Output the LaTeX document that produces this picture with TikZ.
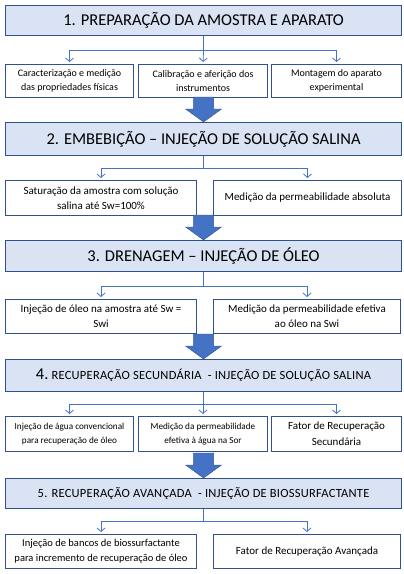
\documentclass[tikz,border=0pt]{standalone}
\usepackage{fontspec}
\setmainfont{Carlito}
\newfontfamily\widecaps[LetterSpace=2]{Carlito}
\usetikzlibrary{arrows.meta}
\usetikzlibrary{calc}

\definecolor{hdfill}{HTML}{DAE3F3}
\definecolor{hdline}{HTML}{2F528F}
\definecolor{lnk}{HTML}{4472C4}

\tikzset{
	head/.style={draw=hdline, fill=hdfill, line width=1.1pt, anchor=north west,
		minimum width=396pt, inner sep=0pt, font=\fontsize{16.5}{19}\selectfont},
	item/.style={draw=hdline, fill=white, line width=1pt, anchor=north west,
		inner sep=0pt, align=center},
	link/.style={draw=lnk, line width=0.8pt},
	tip/.style={link, -{Straight Barb[length=3.5pt,width=8pt]}, shorten >=2pt},
	bigarrow/.style={fill=lnk, draw=hdline, line width=0.4pt}
}
\newcommand{\blockarr}[1]{%
	\path[bigarrow] (#1) -- ++(18,-13) -- ++(-8,0) -- ++(0,-12) -- ++(-20,0)
	-- ++(0,12) -- ++(-8,0) -- cycle;}

\begin{document}
\begin{tikzpicture}[x=1pt,y=-1pt]
\useasboundingbox (0,0) rectangle (404,574);

% etapas
\node[head, minimum height=30pt] (h1) at (5,5) {1. PREPARAÇÃO DA AMOSTRA E APARATO};
\node[head, minimum height=33pt] (h2) at (5,122) {2. EMBEBIÇÃO – INJEÇÃO DE SOLUÇÃO SALINA};
\node[head, minimum height=31pt] (h3) at (5,240) {3. DRENAGEM – INJEÇÃO DE ÓLEO};
\node[head, minimum height=32pt] (h4) at (5,359)
	{4.{\widecaps\fontsize{12.5}{15}\selectfont\ RECUPERAÇÃO SECUNDÁRIA \ - INJEÇÃO DE SOLUÇÃO SALINA}};
\node[head, minimum height=30pt, font=\widecaps\fontsize{12.5}{15}\selectfont] (h5) at (5,478)
	{5. RECUPERAÇÃO AVANÇADA \ - INJEÇÃO DE BIOSSURFACTANTE};

% 1
\node[item, minimum width=128pt, minimum height=33pt, font=\fontsize{10}{14}\selectfont] (r1a) at (5,64)
	{Caracterização e medição\\das propriedades físicas};
\node[item, minimum width=129pt, minimum height=33pt, font=\fontsize{10}{14}\selectfont] (r1b) at (138,64)
	{Calibração e aferição dos\\instrumentos};
\node[item, minimum width=130pt, minimum height=33pt, font=\fontsize{10}{14}\selectfont] (r1c) at (271,64)
	{Montagem do aparato\\experimental};
% 2
\node[item, minimum width=191pt, minimum height=35pt, font=\fontsize{11}{15}\selectfont] (r2a) at (5,180)
	{Saturação da amostra com solução\\salina até Sw=100\%};
\node[item, minimum width=188pt, minimum height=35pt, font=\fontsize{11}{15}\selectfont] (r2b) at (213,180)
	{Medição da permeabilidade absoluta};
% 3
\node[item, minimum width=191pt, minimum height=34pt, font=\fontsize{11}{15}\selectfont] (r3a) at (5,299)
	{Injeção de óleo na amostra até Sw =\\Swi};
\node[item, minimum width=187pt, minimum height=34pt, font=\fontsize{11}{15}\selectfont] (r3b) at (213,299)
	{Medição da permeabilidade efetiva\\ao óleo na Swi};
% 4
\node[item, minimum width=128pt, minimum height=35pt, font=\fontsize{9.2}{14}\selectfont] (r4a) at (5,416)
	{Injeção de água convencional\\para recuperação de óleo};
\node[item, minimum width=129pt, minimum height=35pt, font=\fontsize{9.2}{14}\selectfont] (r4b) at (138,416)
	{Medição da permeabilidade\\efetiva à água na Sor};
\node[item, minimum width=130pt, minimum height=35pt, font=\fontsize{11}{16}\selectfont] (r4c) at (271,416)
	{Fator de Recuperação\\Secundária};
% 5
\node[item, minimum width=191pt, minimum height=34pt, font=\fontsize{10.5}{15}\selectfont] (r5a) at (5,534)
	{Injeção de bancos de biossurfactante\\para incremento de recuperação de óleo};
\node[item, minimum width=187pt, minimum height=34pt, font=\fontsize{11}{15}\selectfont] (r5b) at (213,534)
	{Fator de Recuperação Avançada};

% ligacoes
\draw[link] (h1.south) -- ++(0,14) coordinate (b1);
\draw[tip] (b1) -| (r1a.north);
\draw[tip] (b1) -- (r1b.north);
\draw[tip] (b1) -| (r1c.north);

\draw[link] (h2.south) -- ++(0,12) coordinate (b2);
\draw[tip] (b2) -| (r2a.north);
\draw[tip] (b2) -| (r2b.north);

\draw[link] (h3.south) -- ++(0,14) coordinate (b3);
\draw[tip] (b3) -| (r3a.north);
\draw[tip] (b3) -| (r3b.north);

\draw[link] (h4.south) -- ++(0,12) coordinate (b4);
\draw[tip] (b4) -| (r4a.north);
\draw[tip] (b4) -| (r4b.north);
\draw[tip] (b4) -| (r4c.north);

\draw[link] (h5.south) -- ++(0,12) coordinate (b5);
\draw[tip] (b5) -| (r5a.north);
\draw[tip] (b5) -| (r5b.north);

% setas grandes
\blockarr{h2.north}
\blockarr{h3.north}
\blockarr{h4.north}
\blockarr{h5.north}

\end{tikzpicture}
\end{document}
